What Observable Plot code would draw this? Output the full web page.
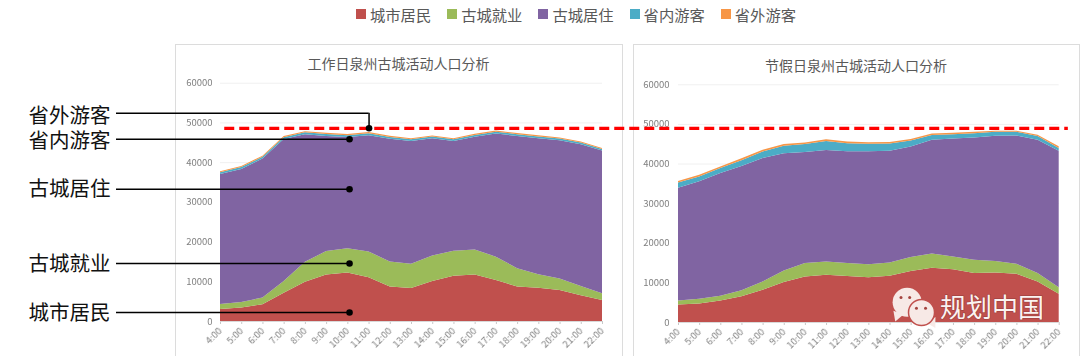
<!DOCTYPE html>
<html lang="zh">
<head>
<meta charset="utf-8">
<script src="https://cdn.jsdelivr.net/npm/d3@7"></script>
<script src="https://cdn.jsdelivr.net/npm/@observablehq/plot@0.6"></script>
<style>
  html, body { margin: 0; padding: 0; background: #fff; width: 1080px; height: 356px; overflow: hidden; }
  body { position: relative; font-family: "Noto Sans CJK SC", "Noto Sans", sans-serif; }
  .panel { position: absolute; top: 44px; height: 330px; box-sizing: border-box; border: 1.5px solid #dcdcdc; background: #fff; }
  .layer { position: absolute; left: 0; top: 0; }
  .layer svg { display: block; overflow: visible; }
  #legend { position: absolute; left: 356px; top: 3px; white-space: nowrap; }
  .lg-swatch { margin-right: 16px !important; }
  .lg-swatch > svg { margin-right: 4px !important; }
  .soft g[aria-label^="x-axis"] text, .soft g[aria-label^="y-axis"] text { filter: blur(0.35px); }
</style>
</head>
<body>
<div class="panel" style="left:175px;width:448px"></div>
<div class="panel" style="left:633px;width:447px"></div>
<div id="legend"></div>
<div id="right" class="layer soft"></div>
<div id="left" class="layer soft"></div>
<script>
const FONT = '"Noto Sans CJK SC", "Noto Sans", sans-serif';
const hours = [4,5,6,7,8,9,10,11,12,13,14,15,16,17,18,19,20,21,22];
const seriesNames = ["城市居民","古城就业","古城居住","省内游客","省外游客"];
const seriesColors = ["#C0504D","#9BBB59","#8064A2","#4BACC6","#F79646"];

const titleWork = "工作日泉州古城活动人口分析";
const titleHoliday = "节假日泉州古城活动人口分析";
const watermark = "规划中国";

// Working day
const workCity   = [3000,3400,4200,7100,9900,11700,12200,11000,8700,8300,10100,11400,11700,10300,8700,8400,7800,6500,5300];
const workJob    = [1300,1400,1700,3000,5000,5900,6100,6500,6300,6100,6400,6300,6300,5900,4600,3400,2900,2300,1700];
const workHome   = [32700,33500,35000,35700,32100,29000,28000,29300,30900,30900,29500,27600,28400,31000,33300,34200,34800,35700,35900];
const workInProv = [450,450,450,480,500,500,480,480,450,450,450,450,450,450,450,450,430,420,400];
const workOutProv= [280,280,280,280,300,300,300,300,280,280,280,280,280,300,300,300,280,280,280];

// Holiday
const holCity    = [4400,4700,5400,6500,8150,10100,11500,11900,11600,11300,11700,12900,13700,13300,12350,12500,12200,10250,7150];
const holJob     = [1000,1200,1200,1500,2100,2900,3400,3400,3300,3300,3300,3500,3600,3250,3350,2900,2500,2100,1650];
const holHome    = [28500,29600,31000,31400,31150,29600,28000,28100,28200,28500,28200,27900,28700,29750,30900,31600,32350,33650,34400];
const holInProv  = [1300,1250,1250,1450,1650,1900,2000,2300,2050,1900,1850,1500,1200,1100,1050,1000,950,950,750];
const holOutProv = [400,400,400,500,400,400,400,400,400,400,400,400,400,400,400,300,300,300,400];

// Reference line and call-outs, in the left chart's data units
const refLevel = 48650;
const refFrom = 4.2, refTo = 43.95;
const calloutNames = ["省外游客","省内游客","古城居住","古城就业","城市居民"];
const calloutLevels = [52440,45880,33280,14620,2270];
const calloutDotHour = [11,10.08,10.08,10.08,10.08];
const calloutDotLevel = [48650,45880,33280,14620,2270];
const calloutLabelLevels = [51560,45250,33280,14400,2000];

const yTicks = [0,10000,20000,30000,40000,50000,60000];
const titleHour = 12.39, titleLevel = 64700;

function tidy(cols) {
  return cols.flatMap((vals, s) => vals.map((v, i) => ({hour: hours[i], value: v, series: seriesNames[s]})));
}

function baseMarks(cols, title, tickPad) {
  return [
    Plot.ruleY([10000,20000,30000,40000,50000,60000], {stroke: "#f0f0f0", strokeWidth: 1}),
    Plot.areaY(tidy(cols), Plot.stackY({x: "hour", y: "value", fill: "series", order: seriesNames})),
    Plot.axisY({ticks: yTicks, tickSize: 0, tickPadding: tickPad, tickFormat: d => String(d), fontSize: 9.5, color: "#7f7f7f", label: null}),
    Plot.axisX({ticks: hours, tickSize: 3, tickPadding: 5, tickRotate: -45, tickFormat: d => d + ":00", fontSize: 9.5, color: "#7f7f7f", stroke: "#c8c8c8", label: null}),
    Plot.ruleY([0], {stroke: "#d9d9d9"}),
    Plot.text([title], {x: () => titleHour, y: () => titleLevel, text: d => d, fontSize: 14, fill: "#595959"})
  ];
}

const common = {
  width: 1080, height: 356,
  x: {domain: [4, 22]},
  y: {domain: [0, 60000]},
  color: {domain: seriesNames, range: seriesColors},
  style: {background: "transparent", fontFamily: FONT, overflow: "visible"}
};

// Right chart (underneath, so the dashed line from the left layer crosses it)
const bubbles = [
  {hour: 14.81, level: 5100, r: 14.5, fill: "#f7e9e6", stroke: "none"},
  {hour: 15.49, level: 2520, r: 13,   fill: "#f7e9e6", stroke: "#C0504D"}
];
const bubbleTails = [
  {hour: 14.35, level: 1750, rotate: 200},
  {hour: 16.0,  level: 0,    rotate: 150}
];
const eyes = [
  {hour: 14.52, level: 6310}, {hour: 14.93, level: 6310},
  {hour: 15.25, level: 3610}, {hour: 15.68, level: 3610}
];
const right = Plot.plot({
  ...common,
  marginLeft: 678, marginRight: 21.3, marginTop: 84.3, marginBottom: 34,
  r: {type: "identity"},
  marks: [
    ...baseMarks([holCity, holJob, holHome, holInProv, holOutProv], titleHoliday, 9),
    Plot.dot(bubbleTails, {x: "hour", y: "level", r: 4, symbol: "triangle", rotate: "rotate", fill: "#f7e9e6"}),
    Plot.dot(bubbles, {x: "hour", y: "level", r: "r", fill: "fill", stroke: "stroke", strokeWidth: 1.5}),
    Plot.dot(eyes, {x: "hour", y: "level", r: 1.5, fill: "#a5443f"}),
    Plot.text([watermark], {x: () => 18.82, y: () => 3450, text: d => d, fontSize: 26, fill: "#fbf3f1",
      stroke: "#6d2c2a", strokeOpacity: 0.35, strokeWidth: 1.5, paintOrder: "stroke"})
  ]
});
document.getElementById("right").append(right);

// Left chart with the reference line and call-outs
const callouts = calloutNames.map((name, i) => ({
  name, level: calloutLevels[i], dotHour: calloutDotHour[i], dotLevel: calloutDotLevel[i], labelLevel: calloutLabelLevels[i]
}));
const leaderStart = -0.9, labelStart = -5.05;
const left = Plot.plot({
  ...common,
  marginLeft: 220, marginRight: 478, marginTop: 82.7, marginBottom: 35,
  marks: [
    ...baseMarks([workCity, workJob, workHome, workInProv, workOutProv], titleWork, 8),
    Plot.ruleY([refLevel], {x1: refFrom, x2: refTo, stroke: "#ff0000", strokeWidth: 3.2, strokeDasharray: "10,5"}),
    Plot.ruleY(callouts, {y: "level", x1: leaderStart, x2: "dotHour", stroke: "#000", strokeWidth: 1.5}),
    Plot.ruleX(callouts.filter(d => d.level !== d.dotLevel), {x: "dotHour", y1: "level", y2: "dotLevel", stroke: "#000", strokeWidth: 1.5}),
    Plot.dot(callouts, {x: "dotHour", y: "dotLevel", r: 3.3, fill: "#000"}),
    Plot.text(callouts, {x: () => labelStart, y: "labelLevel", text: "name", textAnchor: "start", fontSize: 20.5, fill: "#111"})
  ]
});
document.getElementById("left").append(left);

// Legend
const legend = left.legend("color", {
  legend: "swatches", swatchSize: 10, className: "lg",
  style: {fontSize: "15.3px", color: "#595959", fontFamily: FONT, margin: 0, minHeight: "22px"}
});
document.getElementById("legend").append(legend);
</script>
</body>
</html>
